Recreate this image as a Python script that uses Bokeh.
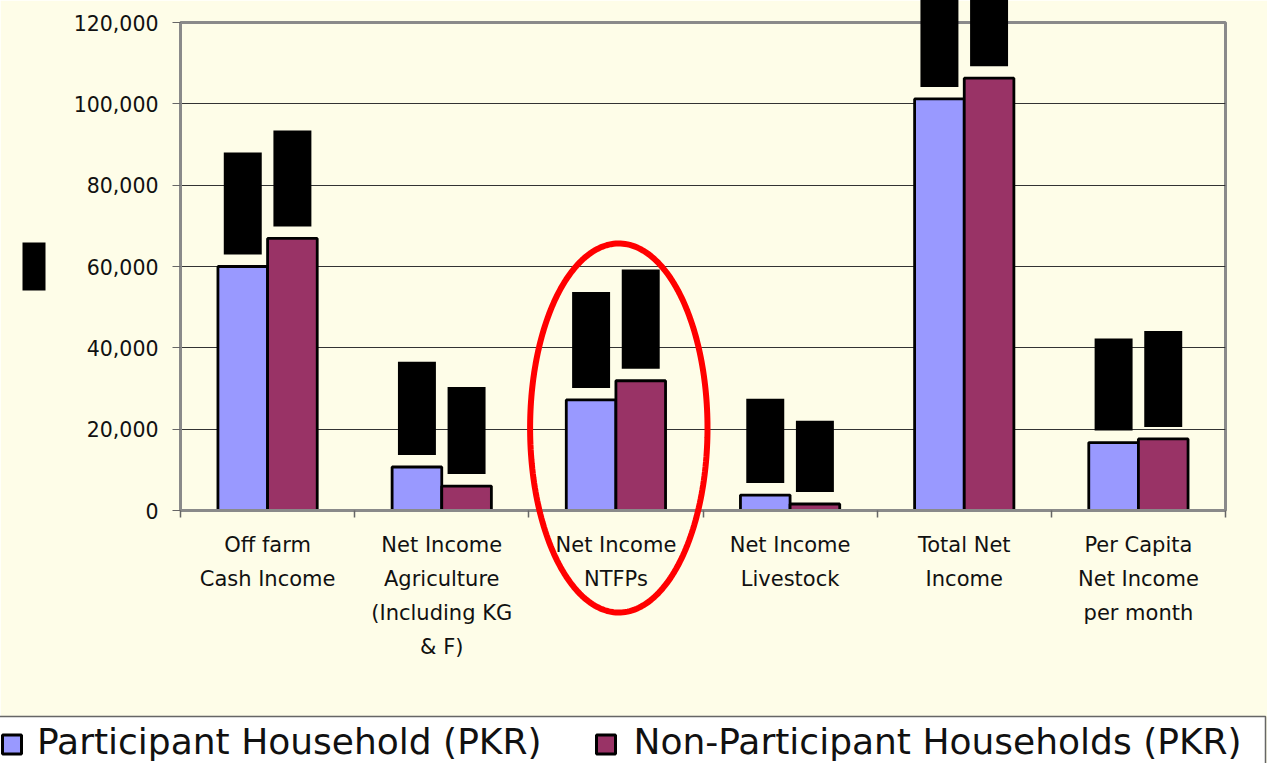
import numpy as np
from bokeh.plotting import figure
from bokeh.models import ColumnDataSource, FixedTicker, NumeralTickFormatter, Range1d
from bokeh.core.properties import value
from bokeh.embed import file_html
from bokeh.resources import INLINE

# ---------------- data ----------------
categories = ["Off farm\nCash Income",
              "Net Income\nAgriculture\n(Including KG\n& F)",
              "Net Income\nNTFPs",
              "Net Income\nLivestock",
              "Total Net\nIncome",
              "Per Capita\nNet Income\nper month"]
participant = [60000, 10700, 27200, 3800, 101200, 16700]
non_participant = [66900, 6000, 31900, 1600, 106300, 17600]
series_names = ["Participant Household (PKR)", "Non-Participant Households (PKR)"]
y_ticks = [0, 20000, 40000, 60000, 80000, 100000, 120000]
# extent of the blacked-out value labels above each bar (data units)
participant_redacted = [25100, 22900, 23600, 20700, 32000, 22650]
non_participant_redacted = [23600, 21400, 24400, 17500, 32000, 23600]

# ---------------- style / geometry ----------------
BG = "#FEFDE8"
BLUE = "#9999FF"
MAROON = "#993366"
GREY = "#8a8a8a"
FONT = "DejaVu Sans"
W, H = 1267, 763
FL, FR, FT, FB = 180, 1225, 22, 510   # frame edges in pixels
n = len(categories)
YMAX = y_ticks[-1]


def dx(px):
    return (px - FL) / (FR - FL) * n


def dy(py):
    return (FB - py) / (FB - FT) * YMAX


centers = [i + 0.5 for i in range(n)]
bar_w = 0.285
off = 0.1425
label_gap = 2950
box_w = 0.218

p = figure(width=W, height=H, x_range=Range1d(0, n), y_range=Range1d(0, YMAX),
           output_backend="svg", toolbar_location=None,
           min_border_left=FL, min_border_right=W - FR, min_border_top=FT, min_border_bottom=H - FB,
           background_fill_color=BG, border_fill_color=BG,
           outline_line_color=GREY, outline_line_width=3)

src = ColumnDataSource(dict(
    xp=[c - off for c in centers], xn=[c + off for c in centers],
    p=participant, n=non_participant,
    pb=[v + label_gap for v in participant],
    pt=[v + label_gap + h for v, h in zip(participant, participant_redacted)],
    nb=[v + label_gap for v in non_participant],
    nt=[v + label_gap + h for v, h in zip(non_participant, non_participant_redacted)],
    pl=[c - off - box_w / 2 for c in centers], pr=[c - off + box_w / 2 for c in centers],
    nl=[c + off - box_w / 2 for c in centers], nr=[c + off + box_w / 2 for c in centers],
))

r1 = p.vbar(x="xp", top="p", width=bar_w, bottom=0, source=src,
            fill_color=BLUE, line_color="black", line_width=2.8)
r2 = p.vbar(x="xn", top="n", width=bar_w, bottom=0, source=src,
            fill_color=MAROON, line_color="black", line_width=2.8)

# blacked-out data labels
p.quad(left="pl", right="pr", bottom="pb", top="pt", source=src,
       fill_color="black", line_color=None, level="overlay")
p.quad(left="nl", right="nr", bottom="nb", top="nt", source=src,
       fill_color="black", line_color=None, level="overlay")

# axes
p.yaxis.ticker = FixedTicker(ticks=y_ticks)
p.yaxis.formatter = NumeralTickFormatter(format="0,0")
p.yaxis.major_label_text_font = FONT
p.yaxis.major_label_text_font_size = "20.5px"
p.yaxis.major_label_text_color = "#111111"
p.yaxis.major_tick_out = 8
p.yaxis.major_tick_in = 0
p.yaxis.major_tick_line_color = "#666666"
p.yaxis.minor_tick_line_color = None
p.yaxis.axis_line_color = GREY
p.yaxis.axis_line_width = 3
p.yaxis.major_label_standoff = 14

p.xaxis.ticker = FixedTicker(ticks=[], minor_ticks=list(range(n + 1)))
p.xaxis.major_tick_line_color = None
p.xaxis.minor_tick_out = 7
p.xaxis.minor_tick_in = 0
p.xaxis.minor_tick_line_color = "#666666"
p.xaxis.minor_tick_line_width = 1.5
p.xaxis.axis_line_color = GREY
p.xaxis.axis_line_width = 3

p.xgrid.visible = False
p.ygrid.ticker = FixedTicker(ticks=y_ticks)
p.ygrid.grid_line_color = "#333333"
p.ygrid.grid_line_width = 1

# multi-line category labels
lx, ly, lo, lt = [], [], [], []
for c, cat in zip(centers, categories):
    for k, line in enumerate(cat.split("\n")):
        lx.append(c); ly.append(0); lo.append(34 + 34.3 * k); lt.append(line)
lab_src = ColumnDataSource(dict(x=lx, y=ly, yo=lo, t=lt))
p.text(x="x", y="y", y_offset="yo", text="t", source=lab_src,
       text_align="center", text_baseline="middle",
       text_font=value(FONT), text_font_size="21px", text_color="#111111", level="overlay")

# blacked-out y-axis title
p.quad(left=[dx(22)], right=[dx(45)], bottom=[dy(290)], top=[dy(242)],
       fill_color="black", line_color=None, level="overlay")

# red ellipse highlight around NTFPs
t = np.linspace(0, 2 * np.pi, 240)
cx, cy, ax_, ay_ = dx(618.3), dy(427.5), dx(618.3 + 88.7) - dx(618.3), dy(427.5 - 184.5) - dy(427.5)
p.line(x=list(cx + ax_ * np.cos(t)), y=list(cy + ay_ * np.sin(t)),
       line_color="#FF0000", line_width=6, level="overlay")

# legend (drawn by hand so it can run off the page edges like the original)
p.quad(left=[dx(-5)], right=[dx(1265)], top=[dy(716)], bottom=[dy(820)],
       fill_color="white", line_color="#666666", line_width=1.5, level="overlay")
sw_x = [dx(11.5), dx(605.5)]
p.rect(x=sw_x, y=[dy(744)] * 2, width=dx(19) - dx(0), height=dy(0) - dy(19),
       fill_color=[BLUE, MAROON], line_color="black", line_width=3, level="overlay")
p.text(x=[dx(36.5), dx(633)], y=[dy(741)] * 2, text=series_names,
       text_align="left", text_baseline="middle",
       text_font=value(FONT), text_font_size="36px", text_color="#111111", level="overlay")

open("out.html", "w").write(file_html(p, INLINE))
